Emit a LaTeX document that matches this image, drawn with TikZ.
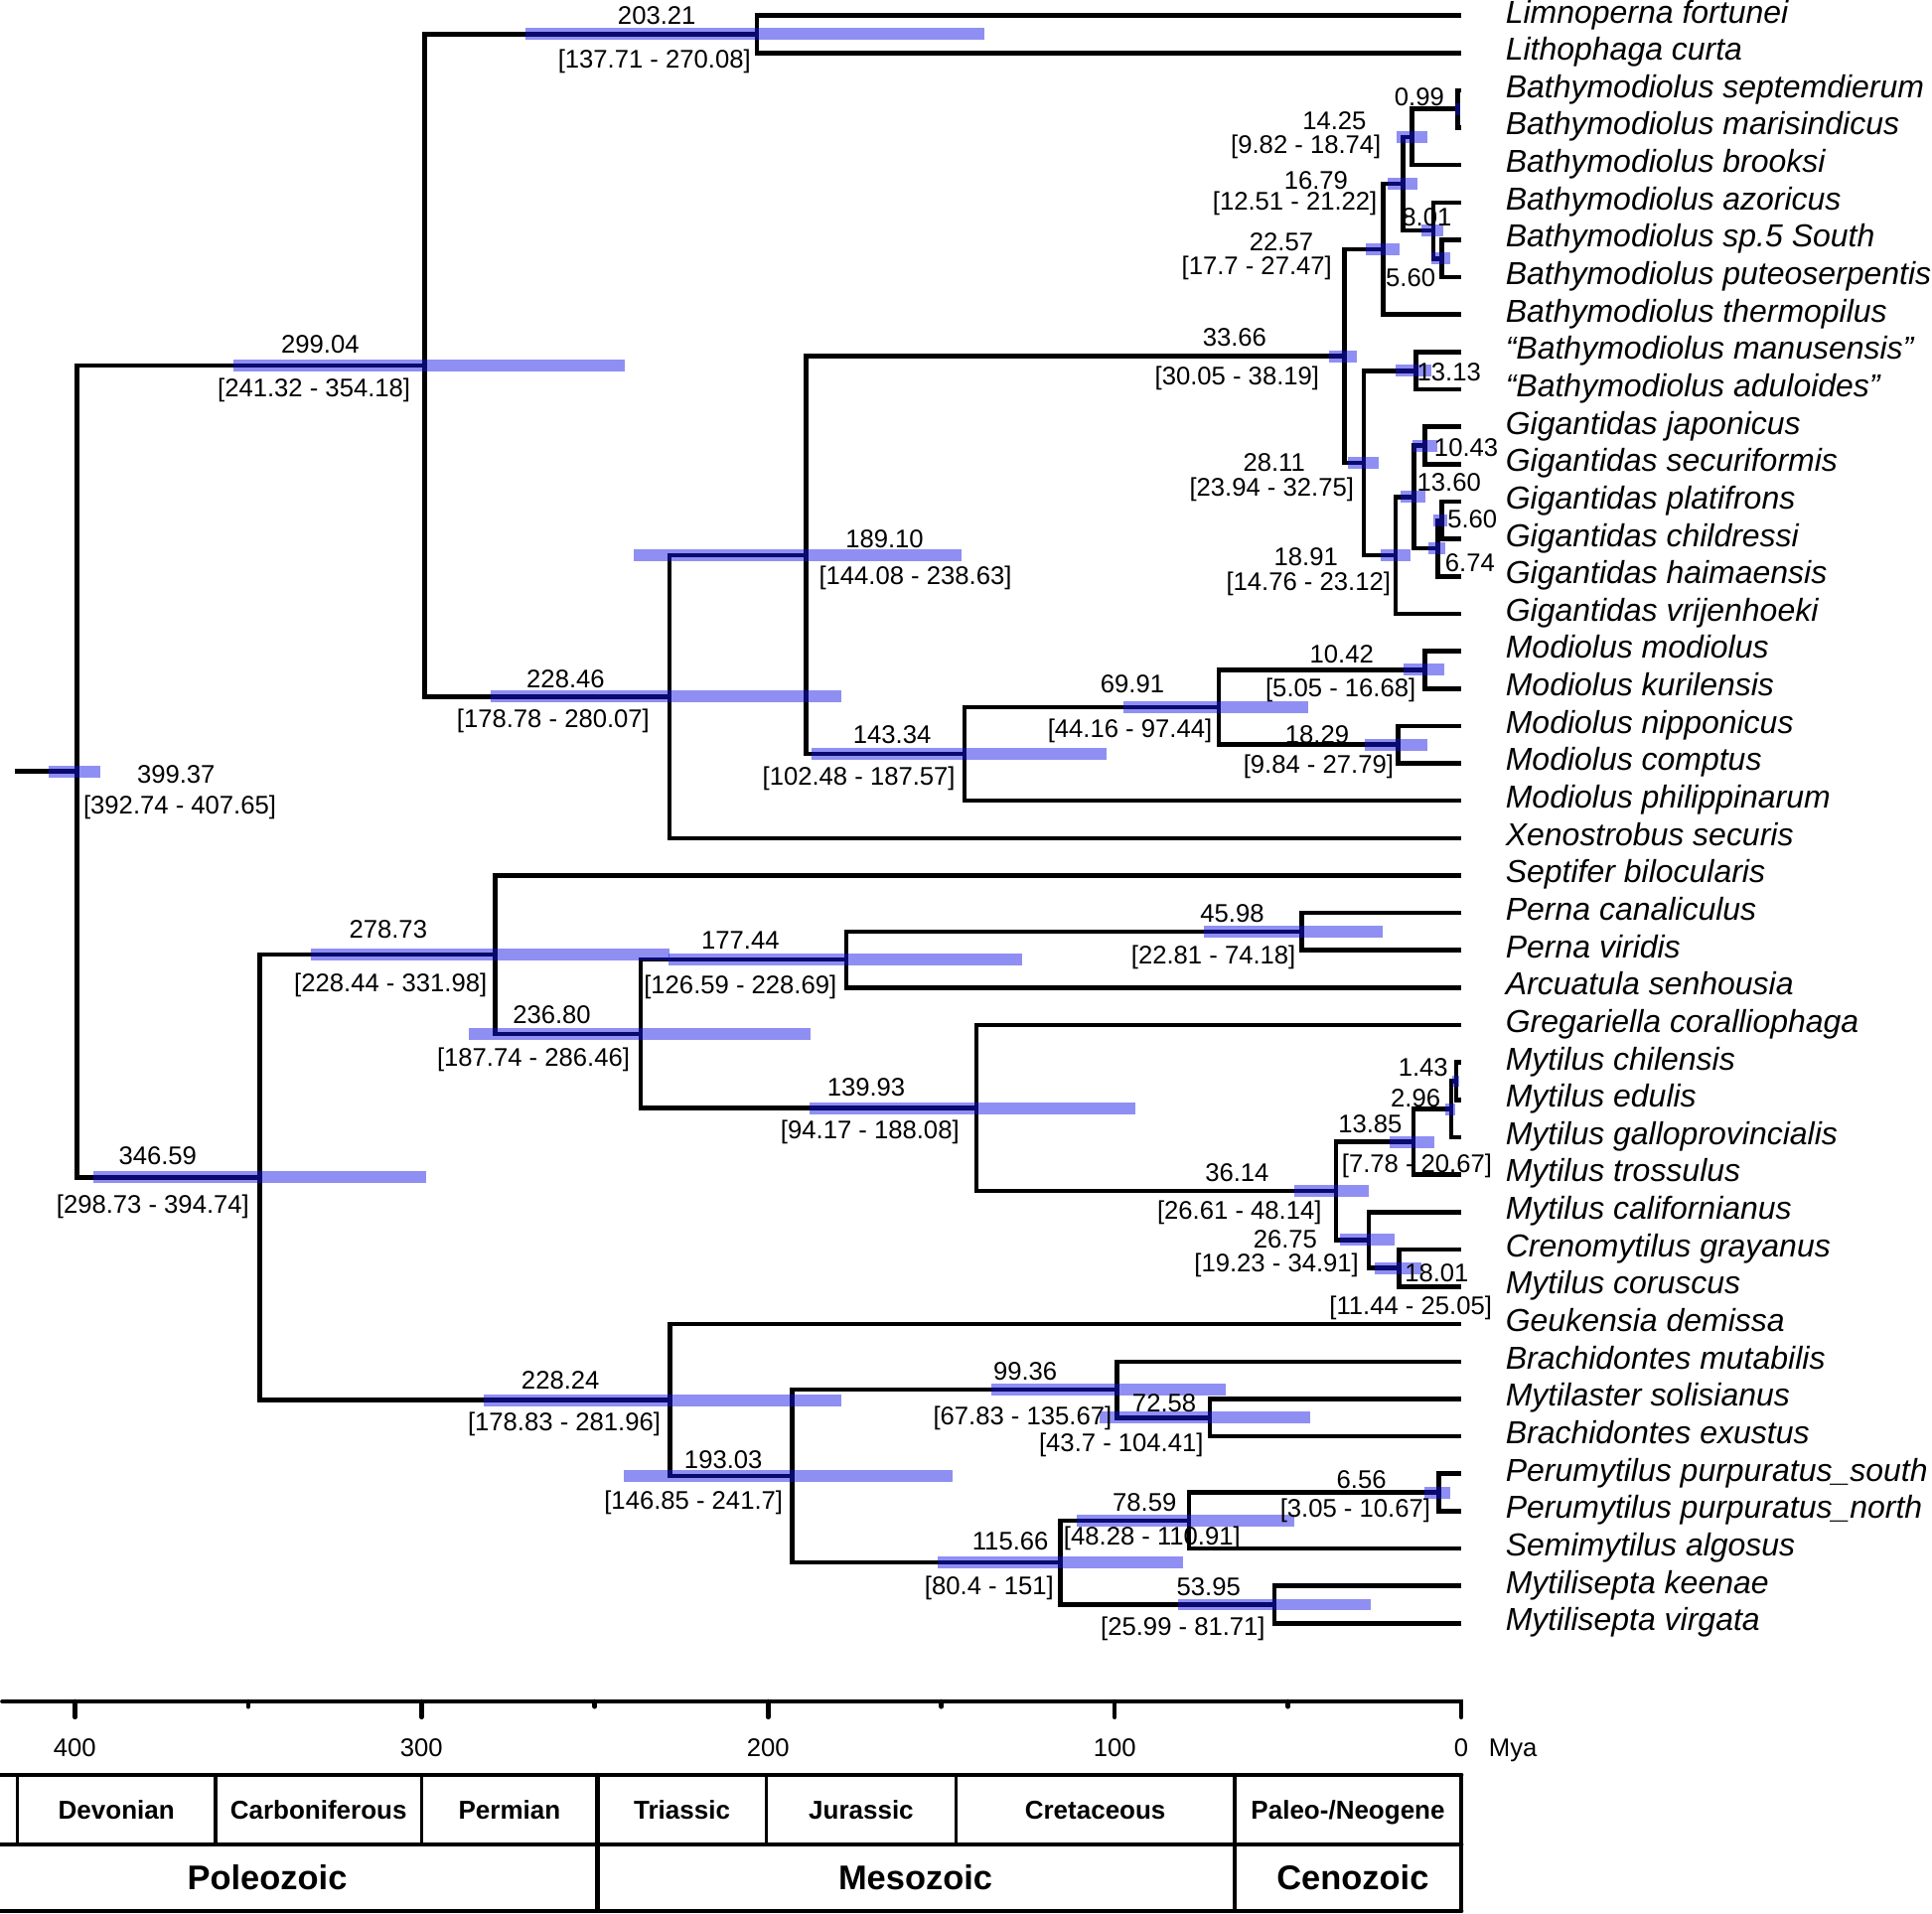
\documentclass[tikz,border=0pt]{standalone}
\usepackage{fontspec}
\setmainfont{Liberation Sans}
\usetikzlibrary{positioning}
\definecolor{hpdblue}{RGB}{20,20,230}

\begin{document}
\begin{tikzpicture}[x=0.034893cm,y=-0.37646cm,
  br/.style={line width=1.3pt},
  hpd/.style={draw=hpdblue,line width=3.4pt,opacity=0.48},
  num/.style={font=\fontsize{7.3}{8}\selectfont,inner sep=0pt,text height=5.2pt,text depth=0pt},
  taxon/.style={font=\fontsize{9.1}{10}\selectfont\itshape,inner sep=0pt,text height=6.5pt,text depth=2.3pt},
  tab/.style={line width=1.3pt,line cap=round},
  sep/.style={line width=1pt},
  period/.style={font=\fontsize{7.4}{8}\selectfont\bfseries,inner sep=0pt,text height=5.3pt,text depth=0pt},
  era/.style={font=\fontsize{9.8}{11}\selectfont\bfseries,inner sep=0pt,text height=7pt,text depth=0pt}]
 \useasboundingbox (-421.6,0.585) rectangle (135.8,51.77);
 % ---- tips and taxa ----
 \coordinate (t1) at (0,1);   \node[taxon,right=0.44cm of t1] (s1) {Limnoperna fortunei};
 \coordinate (t2) at (0,2);   \node[taxon,right=0.44cm of t2] (s2) {Lithophaga curta};
 \coordinate (t3) at (0,3);   \node[taxon,right=0.44cm of t3] (s3) {Bathymodiolus septemdierum};
 \coordinate (t4) at (0,4);   \node[taxon,right=0.44cm of t4] (s4) {Bathymodiolus marisindicus};
 \coordinate (t5) at (0,5);   \node[taxon,right=0.44cm of t5] (s5) {Bathymodiolus brooksi};
 \coordinate (t6) at (0,6);   \node[taxon,right=0.44cm of t6] (s6) {Bathymodiolus azoricus};
 \coordinate (t7) at (0,7);   \node[taxon,right=0.44cm of t7] (s7) {Bathymodiolus sp.5 South};
 \coordinate (t8) at (0,8);   \node[taxon,right=0.44cm of t8] (s8) {Bathymodiolus puteoserpentis};
 \coordinate (t9) at (0,9);   \node[taxon,right=0.44cm of t9] (s9) {Bathymodiolus thermopilus};
 \coordinate (t10) at (0,10); \node[taxon,right=0.44cm of t10] (s10) {“Bathymodiolus manusensis”};
 \coordinate (t11) at (0,11); \node[taxon,right=0.44cm of t11] (s11) {“Bathymodiolus aduloides”};
 \coordinate (t12) at (0,12); \node[taxon,right=0.44cm of t12] (s12) {Gigantidas japonicus};
 \coordinate (t13) at (0,13); \node[taxon,right=0.44cm of t13] (s13) {Gigantidas securiformis};
 \coordinate (t14) at (0,14); \node[taxon,right=0.44cm of t14] (s14) {Gigantidas platifrons};
 \coordinate (t15) at (0,15); \node[taxon,right=0.44cm of t15] (s15) {Gigantidas childressi};
 \coordinate (t16) at (0,16); \node[taxon,right=0.44cm of t16] (s16) {Gigantidas haimaensis};
 \coordinate (t17) at (0,17); \node[taxon,right=0.44cm of t17] (s17) {Gigantidas vrijenhoeki};
 \coordinate (t18) at (0,18); \node[taxon,right=0.44cm of t18] (s18) {Modiolus modiolus};
 \coordinate (t19) at (0,19); \node[taxon,right=0.44cm of t19] (s19) {Modiolus kurilensis};
 \coordinate (t20) at (0,20); \node[taxon,right=0.44cm of t20] (s20) {Modiolus nipponicus};
 \coordinate (t21) at (0,21); \node[taxon,right=0.44cm of t21] (s21) {Modiolus comptus};
 \coordinate (t22) at (0,22); \node[taxon,right=0.44cm of t22] (s22) {Modiolus philippinarum};
 \coordinate (t23) at (0,23); \node[taxon,right=0.44cm of t23] (s23) {Xenostrobus securis};
 \coordinate (t24) at (0,24); \node[taxon,right=0.44cm of t24] (s24) {Septifer bilocularis};
 \coordinate (t25) at (0,25); \node[taxon,right=0.44cm of t25] (s25) {Perna canaliculus};
 \coordinate (t26) at (0,26); \node[taxon,right=0.44cm of t26] (s26) {Perna viridis};
 \coordinate (t27) at (0,27); \node[taxon,right=0.44cm of t27] (s27) {Arcuatula senhousia};
 \coordinate (t28) at (0,28); \node[taxon,right=0.44cm of t28] (s28) {Gregariella coralliophaga};
 \coordinate (t29) at (0,29); \node[taxon,right=0.44cm of t29] (s29) {Mytilus chilensis};
 \coordinate (t30) at (0,30); \node[taxon,right=0.44cm of t30] (s30) {Mytilus edulis};
 \coordinate (t31) at (0,31); \node[taxon,right=0.44cm of t31] (s31) {Mytilus galloprovincialis};
 \coordinate (t32) at (0,32); \node[taxon,right=0.44cm of t32] (s32) {Mytilus trossulus};
 \coordinate (t33) at (0,33); \node[taxon,right=0.44cm of t33] (s33) {Mytilus californianus};
 \coordinate (t34) at (0,34); \node[taxon,right=0.44cm of t34] (s34) {Crenomytilus grayanus};
 \coordinate (t35) at (0,35); \node[taxon,right=0.44cm of t35] (s35) {Mytilus coruscus};
 \coordinate (t36) at (0,36); \node[taxon,right=0.44cm of t36] (s36) {Geukensia demissa};
 \coordinate (t37) at (0,37); \node[taxon,right=0.44cm of t37] (s37) {Brachidontes mutabilis};
 \coordinate (t38) at (0,38); \node[taxon,right=0.44cm of t38] (s38) {Mytilaster solisianus};
 \coordinate (t39) at (0,39); \node[taxon,right=0.44cm of t39] (s39) {Brachidontes exustus};
 \coordinate (t40) at (0,40); \node[taxon,right=0.44cm of t40] (s40) {Perumytilus purpuratus\_south};
 \coordinate (t41) at (0,41); \node[taxon,right=0.44cm of t41] (s41) {Perumytilus purpuratus\_north};
 \coordinate (t42) at (0,42); \node[taxon,right=0.44cm of t42] (s42) {Semimytilus algosus};
 \coordinate (t43) at (0,43); \node[taxon,right=0.44cm of t43] (s43) {Mytilisepta keenae};
 \coordinate (t44) at (0,44); \node[taxon,right=0.44cm of t44] (s44) {Mytilisepta virgata};
 % ---- internal nodes (x = -age in Mya, y = row) ----
 \coordinate (stub) at (-417.3,21.215);
 \coordinate (n399) at (-399.37,21.215);
 \coordinate (n299) at (-299.04,10.357);
 \coordinate (n203) at (-203.21,1.5);
 \coordinate (n228) at (-228.46,19.215);
 \coordinate (n189) at (-189.10,15.43);
 \coordinate (n34) at (-33.66,10.109);
 \coordinate (n23) at (-22.57,7.25);
 \coordinate (n17) at (-16.79,5.5);
 \coordinate (n14) at (-14.25,4.25);
 \coordinate (n1) at (-0.99,3.5);
 \coordinate (n8) at (-8.01,6.75);
 \coordinate (n6) at (-5.60,7.5);
 \coordinate (n28) at (-28.11,12.969);
 \coordinate (n13) at (-13.13,10.5);
 \coordinate (n19) at (-18.91,15.4375);
 \coordinate (n14g) at (-13.60,13.875);
 \coordinate (n10) at (-10.43,12.5);
 \coordinate (n7) at (-6.74,15.25);
 \coordinate (n6g) at (-5.60,14.5);
 \coordinate (n143) at (-143.34,20.75);
 \coordinate (n70) at (-69.91,19.5);
 \coordinate (n10m) at (-10.42,18.5);
 \coordinate (n18m) at (-18.29,20.5);
 \coordinate (n347) at (-346.59,32.074);
 \coordinate (n279) at (-278.73,26.117);
 \coordinate (n237) at (-236.80,28.234);
 \coordinate (n177) at (-177.44,26.25);
 \coordinate (n46) at (-45.98,25.5);
 \coordinate (n140) at (-139.93,30.219);
 \coordinate (n36) at (-36.14,32.4375);
 \coordinate (n14m) at (-13.85,31.125);
 \coordinate (n3) at (-2.96,30.25);
 \coordinate (n1m) at (-1.43,29.5);
 \coordinate (n27) at (-26.75,33.75);
 \coordinate (n18c) at (-18.01,34.5);
 \coordinate (n228b) at (-228.24,38.031);
 \coordinate (n193) at (-193.03,40.0625);
 \coordinate (n99) at (-99.36,37.75);
 \coordinate (n73) at (-72.58,38.5);
 \coordinate (n116) at (-115.66,42.375);
 \coordinate (n79) at (-78.59,41.25);
 \coordinate (n7p) at (-6.56,40.5);
 \coordinate (n54) at (-53.95,43.5);
 % ---- branches ----
 \draw[br] (stub) -- (n399);
 \draw[br] (n299) -| (n399) |- (n347);
 \draw[br] (n203) -| (n299) |- (n228);
 \draw[br] (t1) -| (n203) |- (t2);
 \draw[br] (n189) -| (n228) |- (t23);
 \draw[br] (n34) -| (n189) |- (n143);
 \draw[br] (n23) -| (n34) |- (n28);
 \draw[br] (n17) -| (n23) |- (t9);
 \draw[br] (n14) -| (n17) |- (n8);
 \draw[br] (n1) -| (n14) |- (t5);
 \draw[br] (t3) -| (n1) |- (t4);
 \draw[br] (t6) -| (n8) |- (n6);
 \draw[br] (t7) -| (n6) |- (t8);
 \draw[br] (n13) -| (n28) |- (n19);
 \draw[br] (t10) -| (n13) |- (t11);
 \draw[br] (n14g) -| (n19) |- (t17);
 \draw[br] (n10) -| (n14g) |- (n7);
 \draw[br] (t12) -| (n10) |- (t13);
 \draw[br] (n6g) -| (n7) |- (t16);
 \draw[br] (t14) -| (n6g) |- (t15);
 \draw[br] (n70) -| (n143) |- (t22);
 \draw[br] (n10m) -| (n70) |- (n18m);
 \draw[br] (t18) -| (n10m) |- (t19);
 \draw[br] (t20) -| (n18m) |- (t21);
 \draw[br] (n279) -| (n347) |- (n228b);
 \draw[br] (t24) -| (n279) |- (n237);
 \draw[br] (n177) -| (n237) |- (n140);
 \draw[br] (n46) -| (n177) |- (t27);
 \draw[br] (t25) -| (n46) |- (t26);
 \draw[br] (t28) -| (n140) |- (n36);
 \draw[br] (n14m) -| (n36) |- (n27);
 \draw[br] (n3) -| (n14m) |- (t32);
 \draw[br] (n1m) -| (n3) |- (t31);
 \draw[br] (t29) -| (n1m) |- (t30);
 \draw[br] (t33) -| (n27) |- (n18c);
 \draw[br] (t34) -| (n18c) |- (t35);
 \draw[br] (t36) -| (n228b) |- (n193);
 \draw[br] (n99) -| (n193) |- (n116);
 \draw[br] (t37) -| (n99) |- (n73);
 \draw[br] (t38) -| (n73) |- (t39);
 \draw[br] (n79) -| (n116) |- (n54);
 \draw[br] (n7p) -| (n79) |- (t42);
 \draw[br] (t40) -| (n7p) |- (t41);
 \draw[br] (t43) -| (n54) |- (t44);
 % ---- 95% HPD bars ----
 \draw[hpd] (-407.65,0 |- n399) -- (-392.74,0 |- n399);
 \draw[hpd] (-354.18,0 |- n299) -- (-241.32,0 |- n299);
 \draw[hpd] (-270.08,0 |- n203) -- (-137.71,0 |- n203);
 \draw[hpd] (-280.07,0 |- n228) -- (-178.78,0 |- n228);
 \draw[hpd] (-238.63,0 |- n189) -- (-144.08,0 |- n189);
 \draw[hpd] (-38.19,0 |- n34) -- (-30.05,0 |- n34);
 \draw[hpd] (-27.47,0 |- n23) -- (-17.7,0 |- n23);
 \draw[hpd] (-21.22,0 |- n17) -- (-12.51,0 |- n17);
 \draw[hpd] (-18.74,0 |- n14) -- (-9.82,0 |- n14);
 \draw[hpd] (-1.8,0 |- n1) -- (-0.4,0 |- n1);
 \draw[hpd] (-11.5,0 |- n8) -- (-5.2,0 |- n8);
 \draw[hpd] (-8.7,0 |- n6) -- (-3.3,0 |- n6);
 \draw[hpd] (-32.75,0 |- n28) -- (-23.94,0 |- n28);
 \draw[hpd] (-19.0,0 |- n13) -- (-8.5,0 |- n13);
 \draw[hpd] (-23.12,0 |- n19) -- (-14.76,0 |- n19);
 \draw[hpd] (-17.5,0 |- n14g) -- (-10.3,0 |- n14g);
 \draw[hpd] (-14.0,0 |- n10) -- (-7.0,0 |- n10);
 \draw[hpd] (-9.6,0 |- n7) -- (-4.5,0 |- n7);
 \draw[hpd] (-8.0,0 |- n6g) -- (-3.95,0 |- n6g);
 \draw[hpd] (-187.57,0 |- n143) -- (-102.48,0 |- n143);
 \draw[hpd] (-97.44,0 |- n70) -- (-44.16,0 |- n70);
 \draw[hpd] (-16.68,0 |- n10m) -- (-5.05,0 |- n10m);
 \draw[hpd] (-27.79,0 |- n18m) -- (-9.84,0 |- n18m);
 \draw[hpd] (-394.74,0 |- n347) -- (-298.73,0 |- n347);
 \draw[hpd] (-331.98,0 |- n279) -- (-228.44,0 |- n279);
 \draw[hpd] (-286.46,0 |- n237) -- (-187.74,0 |- n237);
 \draw[hpd] (-228.69,0 |- n177) -- (-126.59,0 |- n177);
 \draw[hpd] (-74.18,0 |- n46) -- (-22.81,0 |- n46);
 \draw[hpd] (-188.08,0 |- n140) -- (-94.17,0 |- n140);
 \draw[hpd] (-48.14,0 |- n36) -- (-26.61,0 |- n36);
 \draw[hpd] (-20.67,0 |- n14m) -- (-7.78,0 |- n14m);
 \draw[hpd] (-4.6,0 |- n3) -- (-1.9,0 |- n3);
 \draw[hpd] (-2.6,0 |- n1m) -- (-0.6,0 |- n1m);
 \draw[hpd] (-34.91,0 |- n27) -- (-19.23,0 |- n27);
 \draw[hpd] (-25.05,0 |- n18c) -- (-11.44,0 |- n18c);
 \draw[hpd] (-281.96,0 |- n228b) -- (-178.83,0 |- n228b);
 \draw[hpd] (-241.7,0 |- n193) -- (-146.85,0 |- n193);
 \draw[hpd] (-135.67,0 |- n99) -- (-67.83,0 |- n99);
 \draw[hpd] (-104.41,0 |- n73) -- (-43.7,0 |- n73);
 \draw[hpd] (-151,0 |- n116) -- (-80.4,0 |- n116);
 \draw[hpd] (-110.91,0 |- n79) -- (-48.28,0 |- n79);
 \draw[hpd] (-10.67,0 |- n7p) -- (-3.05,0 |- n7p);
 \draw[hpd] (-81.71,0 |- n54) -- (-25.99,0 |- n54);
 % ---- ages and intervals ----
 \node[num] (a399) at (-370.8,21.28) {399.37};
 \node[num] (h399) at (-369.7,22.10) {[392.74 - 407.65]};
 \node[num] (a299) at (-329.2,9.78) {299.04};
 \node[num] (h299) at (-331.0,10.96) {[241.32 - 354.18]};
 \node[num] (a203) at (-232.1,0.98) {203.21};
 \node[num] (h203) at (-232.8,2.17) {[137.71 - 270.08]};
 \node[num] (a228) at (-258.4,18.74) {228.46};
 \node[num] (h228) at (-262.0,19.79) {[178.78 - 280.07]};
 \node[num] (a189) at (-166.4,14.98) {189.10};
 \node[num] (h189) at (-157.5,15.97) {[144.08 - 238.63]};
 \node[num] (a34) at (-65.4,9.61) {33.66};
 \node[num] (h34) at (-64.7,10.63) {[30.05 - 38.19]};
 \node[num] (a23) at (-51.9,7.04) {22.57};
 \node[num] (h23) at (-59.0,7.70) {[17.7 - 27.47]};
 \node[num] (a17) at (-41.9,5.40) {16.79};
 \node[num] (h17) at (-48.0,5.96) {[12.51 - 21.22]};
 \node[num] (a14) at (-36.6,3.81) {14.25};
 \node[num] (h14) at (-44.8,4.44) {[9.82 - 18.74]};
 \node[num] (a1) at (-12.1,3.16) {0.99};
 \node[num] (a8) at (-9.95,6.38) {8.01};
 \node[num] (a6) at (-14.6,8.0) {5.60};
 \node[num] (a28) at (-54.0,12.94) {28.11};
 \node[num] (h28) at (-54.7,13.60) {[23.94 - 32.75]};
 \node[num] (a13) at (-3.55,10.54) {13.13};
 \node[num] (a19) at (-44.8,15.48) {18.91};
 \node[num] (h19) at (-44.1,16.14) {[14.76 - 23.12]};
 \node[num] (a14g) at (-3.55,13.47) {13.60};
 \node[num] (a10) at (1.42,12.55) {10.43};
 \node[num] (a7) at (2.49,15.64) {6.74};
 \node[num] (a6g) at (3.2,14.46) {5.60};
 \node[num] (a143) at (-164.2,20.22) {143.34};
 \node[num] (h143) at (-173.8,21.34) {[102.48 - 187.57]};
 \node[num] (a70) at (-94.9,18.87) {69.91};
 \node[num] (h70) at (-95.6,20.06) {[44.16 - 97.44]};
 \node[num] (a10m) at (-34.5,18.08) {10.42};
 \node[num] (h10m) at (-34.8,18.97) {[5.05 - 16.68]};
 \node[num] (a18m) at (-41.6,20.22) {18.29};
 \node[num] (h18m) at (-41.2,21.01) {[9.84 - 27.79]};
 \node[num] (a347) at (-376.1,31.49) {346.59};
 \node[num] (h347) at (-377.5,32.78) {[298.73 - 394.74]};
 \node[num] (a279) at (-309.6,25.43) {278.73};
 \node[num] (h279) at (-308.9,26.88) {[228.44 - 331.98]};
 \node[num] (a237) at (-262.4,27.73) {236.80};
 \node[num] (h237) at (-267.7,28.86) {[187.74 - 286.46]};
 \node[num] (a177) at (-208.0,25.72) {177.44};
 \node[num] (h177) at (-208.0,26.91) {[126.59 - 228.69]};
 \node[num] (a46) at (-66.1,25.0) {45.98};
 \node[num] (h46) at (-71.5,26.12) {[22.81 - 74.18]};
 \node[num] (a140) at (-171.7,29.65) {139.93};
 \node[num] (h140) at (-170.6,30.80) {[94.17 - 188.08]};
 \node[num] (a36) at (-64.7,31.95) {36.14};
 \node[num] (h36) at (-64.0,32.94) {[26.61 - 48.14]};
 \node[num] (a14m) at (-26.3,30.63) {13.85};
 \node[num] (h14m) at (-12.8,31.69) {[7.78 - 20.67]};
 \node[num] (a3) at (-13.2,29.94) {2.96};
 \node[num] (a1m) at (-11.0,29.12) {1.43};
 \node[num] (a27) at (-50.8,33.73) {26.75};
 \node[num] (h27) at (-53.3,34.36) {[19.23 - 34.91]};
 \node[num] (a18c) at (-7.1,34.62) {18.01};
 \node[num] (h18c) at (-14.6,35.51) {[11.44 - 25.05]};
 \node[num] (a228b) at (-259.9,37.49) {228.24};
 \node[num] (h228b) at (-258.8,38.61) {[178.83 - 281.96]};
 \node[num] (a193) at (-212.9,39.63) {193.03};
 \node[num] (h193) at (-221.5,40.72) {[146.85 - 241.7]};
 \node[num] (a99) at (-125.8,37.26) {99.36};
 \node[num] (h99) at (-126.6,38.44) {[67.83 - 135.67]};
 \node[num] (a73) at (-85.7,38.11) {72.58};
 \node[num] (h73) at (-98.1,39.17) {[43.7 - 104.41]};
 \node[num] (a116) at (-130.1,41.80) {115.66};
 \node[num] (h116) at (-136.2,42.99) {[80.4 - 151]};
 \node[num] (a79) at (-91.4,40.75) {78.59};
 \node[num] (h79) at (-89.2,41.67) {[48.28 - 110.91]};
 \node[num] (a7p) at (-28.8,40.16) {6.56};
 \node[num] (h7p) at (-30.6,40.91) {[3.05 - 10.67]};
 \node[num] (a54) at (-72.9,43.02) {53.95};
 \node[num] (h54) at (-80.3,44.08) {[25.99 - 81.71]};
 % ---- time axis ----
 \coordinate (ax0) at (-420.9,46.09);
 \coordinate (ax1) at (0,46.09);
 \draw[tab] (ax0) -- (ax1) -- ++(0,0.42);
 \draw[tab] (-400,46.09) -- ++(0,0.42) (-300,46.09) -- ++(0,0.42)
   (-200,46.09) -- ++(0,0.42) (-100,46.09) -- ++(0,0.42);
 \draw[tab] (-350,46.09) -- ++(0,0.14) (-250,46.09) -- ++(0,0.14)
   (-150,46.09) -- ++(0,0.14) (-50,46.09) -- ++(0,0.14);
 \node[num] (l400) at (-400,47.31) {400};
 \node[num] (l300) at (-300,47.31) {300};
 \node[num] (l200) at (-200,47.31) {200};
 \node[num] (l100) at (-100,47.31) {100};
 \node[num] (l0) at (0,47.31) {0};
 \node[num] (mya) at (14.9,47.31) {Mya};
 % ---- geological time scale ----
 \draw[tab] (-421.6,48.06) -- (0,48.06);
 \draw[tab] (-421.6,49.91) -- (0,49.91);
 \draw[tab] (-421.6,51.69) -- (0,51.69);
 \draw[sep] (-416.6,48.06) -- (-416.6,49.91) (-359.4,48.06) -- (-359.4,49.91)
   (-300,48.06) -- (-300,49.91) (-200.5,48.06) -- (-200.5,49.91)
   (-145.8,48.06) -- (-145.8,49.91);
 \draw[tab] (-249.2,48.06) -- (-249.2,51.69) (-65.4,48.06) -- (-65.4,51.69)
   (0,48.06) -- (0,51.69);
 \node[period] (dev) at (-388.0,49.0) {Devonian};
 \node[period] (car) at (-329.7,49.0) {Carboniferous};
 \node[period] (per) at (-274.6,49.0) {Permian};
 \node[period] (tri) at (-224.85,49.0) {Triassic};
 \node[period] (jur) at (-173.15,49.0) {Jurassic};
 \node[period] (cre) at (-105.6,49.0) {Cretaceous};
 \node[period] (neo) at (-32.7,49.0) {Paleo-/Neogene};
 \node[era] (pal) at (-344.5,50.8) {Poleozoic};
 \node[era] (mes) at (-157.5,50.8) {Mesozoic};
 \node[era] (cen) at (-31.3,50.8) {Cenozoic};
\end{tikzpicture}
\end{document}
